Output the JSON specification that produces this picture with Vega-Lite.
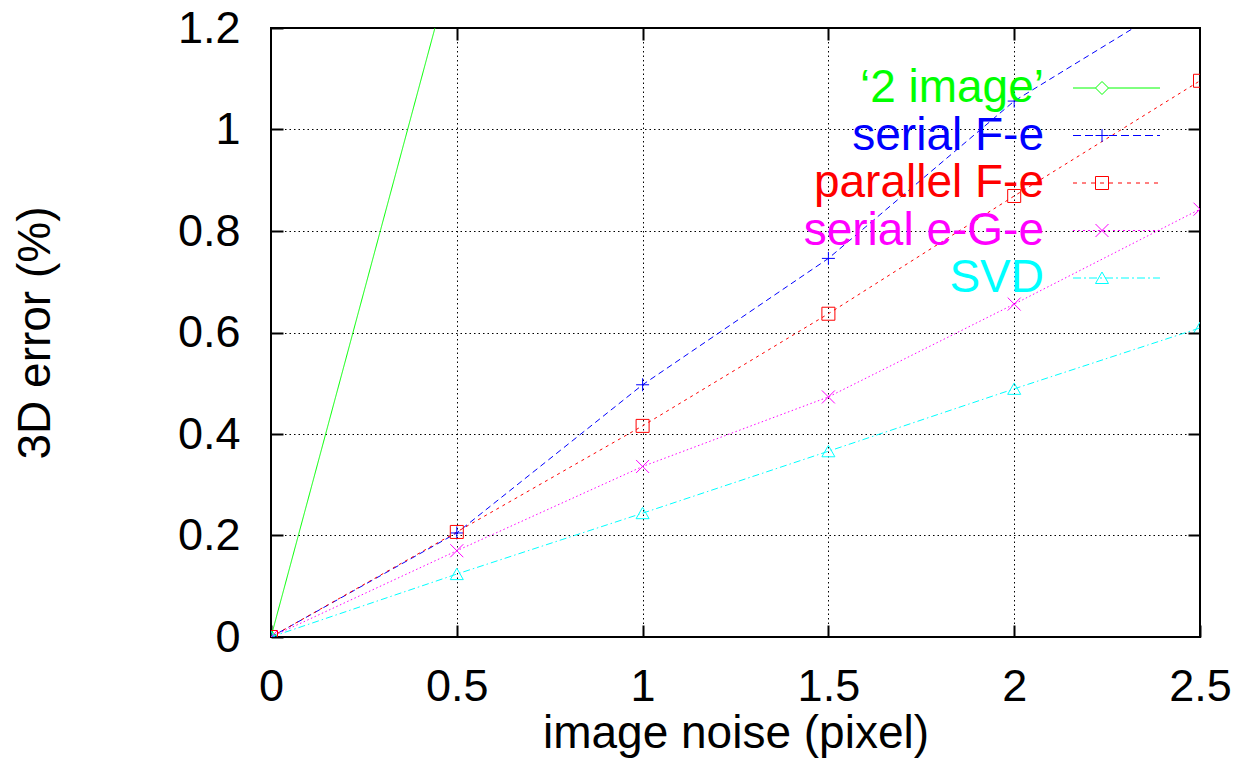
{
  "$schema": "https://vega.github.io/schema/vega-lite/v6.json",
  "width": 929,
  "height": 609,
  "autosize": {"type": "none"},
  "padding": {"left": 271, "top": 28, "right": 41, "bottom": 121},
  "background": "white",
  "config": {
    "view": {"stroke": "black", "strokeWidth": 2},
    "font": "Liberation Sans"
  },
  "data": {
    "values": [
      {"series": "‘2 image’", "noise": 0, "error": 0},
      {"series": "‘2 image’", "noise": 0.5, "error": 1.36},
      {"series": "‘2 image’", "noise": 1, "error": 2.8},
      {"series": "‘2 image’", "noise": 1.5, "error": 4.2},
      {"series": "‘2 image’", "noise": 2, "error": 5.6},
      {"series": "‘2 image’", "noise": 2.5, "error": 7.0},
      {"series": "serial F-e", "noise": 0, "error": 0},
      {"series": "serial F-e", "noise": 0.5, "error": 0.205},
      {"series": "serial F-e", "noise": 1, "error": 0.497},
      {"series": "serial F-e", "noise": 1.5, "error": 0.746},
      {"series": "serial F-e", "noise": 2, "error": 1.056},
      {"series": "serial F-e", "noise": 2.5, "error": 1.28},
      {"series": "parallel F-e", "noise": 0, "error": 0},
      {"series": "parallel F-e", "noise": 0.5, "error": 0.207},
      {"series": "parallel F-e", "noise": 1, "error": 0.416},
      {"series": "parallel F-e", "noise": 1.5, "error": 0.637},
      {"series": "parallel F-e", "noise": 2, "error": 0.869},
      {"series": "parallel F-e", "noise": 2.5, "error": 1.096},
      {"series": "serial e-G-e", "noise": 0, "error": 0},
      {"series": "serial e-G-e", "noise": 0.5, "error": 0.17},
      {"series": "serial e-G-e", "noise": 1, "error": 0.336},
      {"series": "serial e-G-e", "noise": 1.5, "error": 0.473},
      {"series": "serial e-G-e", "noise": 2, "error": 0.656},
      {"series": "serial e-G-e", "noise": 2.5, "error": 0.843},
      {"series": "SVD", "noise": 0, "error": 0},
      {"series": "SVD", "noise": 0.5, "error": 0.124},
      {"series": "SVD", "noise": 1, "error": 0.244},
      {"series": "SVD", "noise": 1.5, "error": 0.366},
      {"series": "SVD", "noise": 2, "error": 0.489},
      {"series": "SVD", "noise": 2.5, "error": 0.609}
    ]
  },
  "resolve": {"axis": {"x": "independent", "y": "independent"}, "scale": {"shape": "independent"}},
  "layer": [
    {
      "mark": {"type": "line", "strokeWidth": 1, "clip": true},
      "encoding": {
        "x": {
          "field": "noise", "type": "quantitative",
          "scale": {"domain": [0, 2.5], "nice": false, "zero": false},
          "axis": {
            "orient": "bottom", "values": [0, 0.5, 1, 1.5, 2, 2.5], "format": "~g",
            "labelFont": "Liberation Sans", "labelFontSize": 45, "labelColor": "black",
            "labelPadding": 39, "labelFlush": false, "labelOverlap": false,
            "tickSize": -12, "tickWidth": 2, "tickColor": "black",
            "domain": false, "grid": true, "gridColor": "#000", "gridDash": [1.5, 3], "gridWidth": 1,
            "title": "image noise (pixel)", "titleFont": "Liberation Sans", "titleFontSize": 46,
            "titleFontWeight": "normal", "titleColor": "black", "titleY": 110, "titleBaseline": "alphabetic",
            "zindex": 0
          }
        },
        "y": {
          "field": "error", "type": "quantitative",
          "scale": {"domain": [0, 1.2], "nice": false, "zero": false},
          "axis": {
            "orient": "left", "values": [0, 0.2, 0.4, 0.6, 0.8, 1, 1.2], "format": "~g",
            "labelFont": "Liberation Sans", "labelFontSize": 45, "labelColor": "black",
            "labelPadding": 43, "labelFlush": false, "labelOverlap": false,
            "tickSize": -12, "tickWidth": 2, "tickColor": "black",
            "domain": false, "grid": true, "gridColor": "#000", "gridDash": [1.5, 3], "gridWidth": 1,
            "title": "3D error (%)", "titleFont": "Liberation Sans", "titleFontSize": 46,
            "titleFontWeight": "normal", "titleColor": "black", "titleX": -222, "titleAngle": -90,
            "titleBaseline": "alphabetic", "zindex": 0
          }
        },
        "color": {
          "field": "series", "type": "nominal",
          "scale": {
            "domain": ["‘2 image’", "serial F-e", "parallel F-e", "serial e-G-e", "SVD"],
            "range": ["#00ff00", "#0000ff", "#ff0000", "#ff00ff", "#00ffff"]
          },
          "legend": null
        },
        "strokeDash": {
          "field": "series", "type": "nominal",
          "scale": {
            "domain": ["‘2 image’", "serial F-e", "parallel F-e", "serial e-G-e", "SVD"],
            "range": [[1, 0], [6, 4], [3, 4], [1.5, 2.5], [7, 3, 1.5, 3]]
          },
          "legend": null
        }
      }
    },
    {
      "mark": {"type": "point", "filled": false, "size": 169, "strokeWidth": 1, "clip": true, "opacity": 1},
      "encoding": {
        "x": {
          "field": "noise", "type": "quantitative",
          "axis": {
            "orient": "top", "values": [0.5, 1, 1.5, 2], "labels": false, "grid": false, "domain": false,
            "ticks": true, "tickSize": -12, "tickWidth": 2, "tickColor": "black", "title": null, "zindex": 1
          }
        },
        "y": {
          "field": "error", "type": "quantitative",
          "axis": {
            "orient": "right", "values": [0.2, 0.4, 0.6, 0.8, 1], "labels": false, "grid": false, "domain": false,
            "ticks": true, "tickSize": -12, "tickWidth": 2, "tickColor": "black", "title": null, "zindex": 1
          }
        },
        "color": {"field": "series", "type": "nominal", "legend": null},
        "shape": {
          "field": "series", "type": "nominal",
          "scale": {
            "domain": ["‘2 image’", "serial F-e", "parallel F-e", "serial e-G-e", "SVD"],
            "range": ["diamond", "M-1,0H1M0,-1V1", "square", "M-1,-1L1,1M-1,1L1,-1", "M-1,0.85L0,-0.9L1,0.85Z"]
          },
          "legend": null
        }
      }
    },
    {
      "transform": [{"filter": "false"}],
      "mark": {"type": "point", "filled": false, "size": 4, "strokeWidth": 1, "opacity": 1},
      "encoding": {
        "x": {"field": "noise", "type": "quantitative", "axis": null},
        "y": {"field": "error", "type": "quantitative", "axis": null},
        "color": {"field": "series", "type": "nominal", "legend": null},
        "shape": {
          "field": "series", "type": "nominal",
          "scale": {
            "domain": ["‘2 image’", "serial F-e", "parallel F-e", "serial e-G-e", "SVD"],
            "range": [
              "M-29,0H-6.5M6.5,0H58M-6.5,0L0,-6.5L6.5,0L0,6.5Z",
              "M-29,0h8m4,0h8m4,0h8m4,0h8m4,0h8m4,0h8m4,0h8m4,0h3M-6.5,0H6.5M0,-6.5V6.5",
              "M-29,0h4m5,0h4m5,0h4m5,0h4m5,0h4m5,0h4m5,0h4m5,0h4m5,0h4m5,0h4M-6.5,-6.5H6.5V6.5H-6.5Z",
              "M-29,0h2m3,0h2m3,0h2m3,0h2m3,0h2m3,0h2m3,0h2m3,0h2m3,0h2m3,0h2m3,0h2m3,0h2m3,0h2m3,0h2m3,0h2m3,0h2m3,0h2m3,0h2M-6.5,-6.5L6.5,6.5M-6.5,6.5L6.5,-6.5",
              "M-29,0h8m3,0h2m3,0h8m3,0h2m3,0h8m3,0h2m3,0h8m3,0h2m3,0h8m3,0h2m3,0h7M-6.5,5.5L0,-6L6.5,5.5Z"
            ]
          },
          "legend": {
            "orient": "none", "legendX": 772, "legendY": 37, "title": null, "padding": 0,
            "labelFont": "Liberation Sans", "labelFontSize": 46, "labelAlign": "right",
            "labelOffset": -81, "labelLimit": 0,
            "labelColor": {"expr": "scale('color', datum.value)"},
            "symbolOffset": 36, "symbolSize": 4, "symbolStrokeWidth": 1,
            "symbolFillColor": "transparent", "symbolOpacity": 1,
            "symbolStrokeColor": {"expr": "scale('color', datum.value)"},
            "rowPadding": 1.5
          }
        }
      }
    }
  ]
}
